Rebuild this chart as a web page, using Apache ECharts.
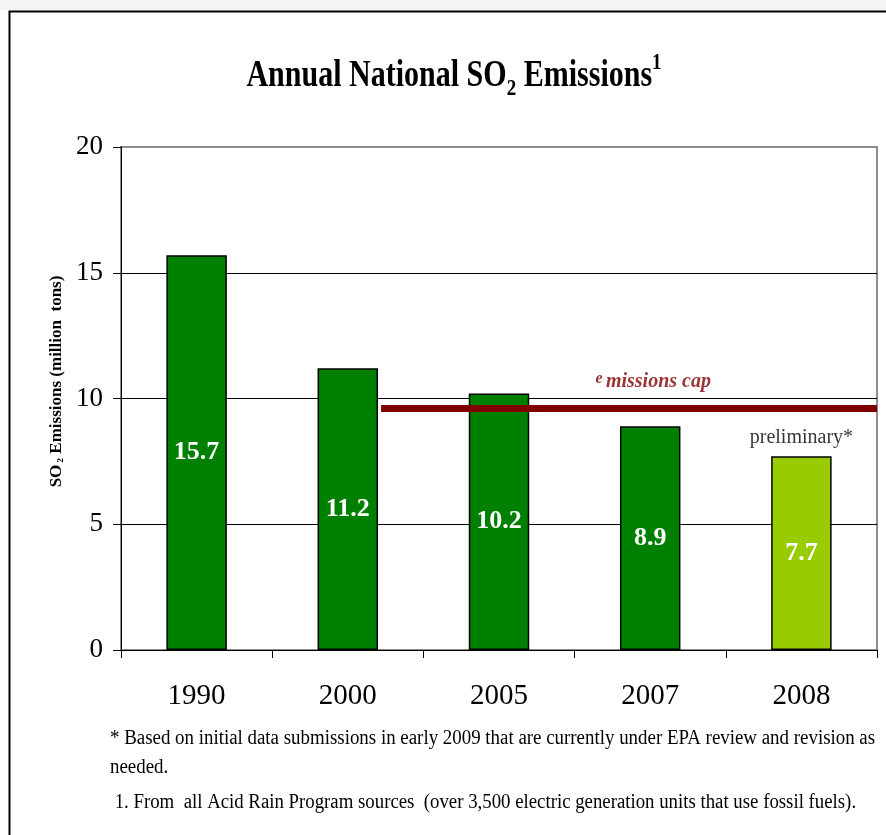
<!DOCTYPE html>
<html>
<head>
<meta charset="utf-8">
<script src="https://cdn.jsdelivr.net/npm/echarts@6/dist/echarts.min.js"></script>
<style>
html,body{margin:0;padding:0;background:#fff;}
#chart{width:886px;height:835px;}
</style>
</head>
<body>
<div id="chart"></div>
<script>
// ---- data ----
var categories = ['1990', '2000', '2005', '2007', '2008'];
var so2Values = [15.7, 11.2, 10.2, 8.9, 7.7];
var preliminaryYear = '2008';
var capValue = 9.6;
var capStartYear = '2000';
var yTicks = [0, 5, 10, 15, 20];
var titleMain = 'Annual National SO';
var titleSub = '2';
var titleRest = ' Emissions';
var titleSup = '1';
var footnotes = [
  '* Based on initial data submissions in early 2009 that are currently under EPA review and revision as',
  'needed.',
  ' 1. From  all Acid Rain Program sources  (over 3,500 electric generation units that use fossil fuels).'
];

// ---- styling ----
var SERIF = '"Liberation Serif", "Times New Roman", serif';
var BAR_W = 0.4;
var capStart = categories.indexOf(capStartYear) + 0.5 + BAR_W / 2 + 0.02;
var capEnd = categories.length;

var chart = echarts.init(document.getElementById('chart'));
var barData = so2Values.map(function (v, i) {
  return {
    value: v,
    itemStyle: { color: categories[i] === preliminaryYear ? '#99CC00' : '#008000' }
  };
});
var splitColors = yTicks.map(function (t, i) { return i === yTicks.length - 1 ? '#8c8c8c' : '#000'; });

var option = {
  animation: false,
  backgroundColor: '#fff',
  grid: {
    left: 121, top: 147, right: 9, bottom: 185,
    show: true, borderColor: '#8c8c8c', borderWidth: 2, backgroundColor: '#fff'
  },
  xAxis: [{
    type: 'category',
    data: categories,
    axisLine: { lineStyle: { color: '#000', width: 1 } },
    axisTick: { show: true, length: 8, lineStyle: { color: '#000', width: 1 } },
    axisLabel: { color: '#000', fontFamily: SERIF, fontSize: 29, margin: 32 },
    splitLine: { show: false }
  }, {
    type: 'value', min: 0, max: categories.length, show: false
  }],
  yAxis: {
    type: 'value', min: yTicks[0], max: yTicks[yTicks.length - 1], interval: 5,
    name: '{a|SO}{s| 2}{a| Emissions (million  tons)}',
    nameLocation: 'middle', nameRotate: 90, nameGap: 52,
    nameTextStyle: {
      padding: [0, 0, 0, 34],
      rich: {
        a: { fontFamily: SERIF, fontSize: 17, fontWeight: 'bold', color: '#000' },
        s: { fontFamily: SERIF, fontSize: 9, fontWeight: 'bold', color: '#000', verticalAlign: 'bottom' }
      }
    },
    axisLine: { show: true, lineStyle: { color: '#000', width: 1 } },
    axisTick: { show: true, length: 8, lineStyle: { color: '#000' } },
    axisLabel: { color: '#000', fontFamily: SERIF, fontSize: 27, margin: 18 },
    splitLine: { lineStyle: { color: splitColors, width: 1 } }
  },
  series: [{
    type: 'bar',
    data: barData,
    barWidth: (BAR_W * 100) + '%',
    itemStyle: { borderColor: '#000', borderWidth: 1.5 },
    label: {
      show: true, position: 'inside', color: '#fff',
      fontFamily: SERIF, fontWeight: 'bold', fontSize: 26,
      formatter: function (p) { return p.value.toFixed(1); }
    },
    z: 2
  }, {
    type: 'line',
    xAxisIndex: 1,
    data: [[capStart, capValue], [capEnd, capValue]],
    symbol: 'none',
    lineStyle: { color: '#800000', width: 7 },
    silent: true,
    clip: false,
    z: 3
  }, {
    type: 'scatter',
    symbolSize: 1,
    itemStyle: { color: 'transparent' },
    silent: true,
    z: 4,
    data: [{
      value: ['2007', capValue],
      label: {
        show: true, position: 'inside', offset: [3, -27],
        formatter: '{e|e} {m|missions cap}',
        rich: {
          e: { fontFamily: SERIF, fontSize: 16, fontWeight: 'bold', fontStyle: 'italic', color: '#800000', verticalAlign: 'top', padding: [0, 0, 6, 0] },
          m: { fontFamily: SERIF, fontSize: 20, fontWeight: 'bold', fontStyle: 'italic', color: '#800000' }
        }
      }
    }, {
      value: [preliminaryYear, so2Values[categories.indexOf(preliminaryYear)]],
      label: {
        show: true, position: 'inside', offset: [0, -19],
        formatter: 'preliminary*',
        fontFamily: SERIF, fontSize: 20, color: '#000'
      }
    }]
  }],
  graphic: [{
    type: 'rect', z: -10, silent: true,
    shape: { x: 0, y: 0, width: 886, height: 10 },
    style: { fill: '#f4f4f4' }
  }, {
    type: 'rect', z: -5, silent: true,
    shape: { x: 9.5, y: 11.5, width: 1000, height: 1000 },
    style: { fill: 'none', stroke: '#000', lineWidth: 2 }
  }, {
    type: 'text', silent: true,
    x: 454, y: 76, scaleX: 0.79,
    style: {
      text: '{a|' + titleMain + '}{s|' + titleSub + '}{a|' + titleRest + '}{p|' + titleSup + '}',
      textAlign: 'center', textVerticalAlign: 'middle',
      rich: {
        a: { fontFamily: SERIF, fontSize: 38, fontWeight: 'bold', fill: '#000', lineHeight: 50, verticalAlign: 'middle' },
        s: { fontFamily: SERIF, fontSize: 24, fontWeight: 'bold', fill: '#000', lineHeight: 50, verticalAlign: 'bottom' },
        p: { fontFamily: SERIF, fontSize: 24, fontWeight: 'bold', fill: '#000', lineHeight: 50, verticalAlign: 'top' }
      }
    }
  }, {
    type: 'text', silent: true, x: 110, y: 739, scaleX: 0.945,
    style: { text: footnotes[0], font: '20px ' + SERIF, fill: '#000', textVerticalAlign: 'middle' }
  }, {
    type: 'text', silent: true, x: 110, y: 768, scaleX: 0.945,
    style: { text: footnotes[1], font: '20px ' + SERIF, fill: '#000', textVerticalAlign: 'middle' }
  }, {
    type: 'text', silent: true, x: 110, y: 803, scaleX: 0.94,
    style: { text: footnotes[2], font: '20px ' + SERIF, fill: '#000', textVerticalAlign: 'middle' }
  }]
};
chart.setOption(option);
</script>
</body>
</html>
